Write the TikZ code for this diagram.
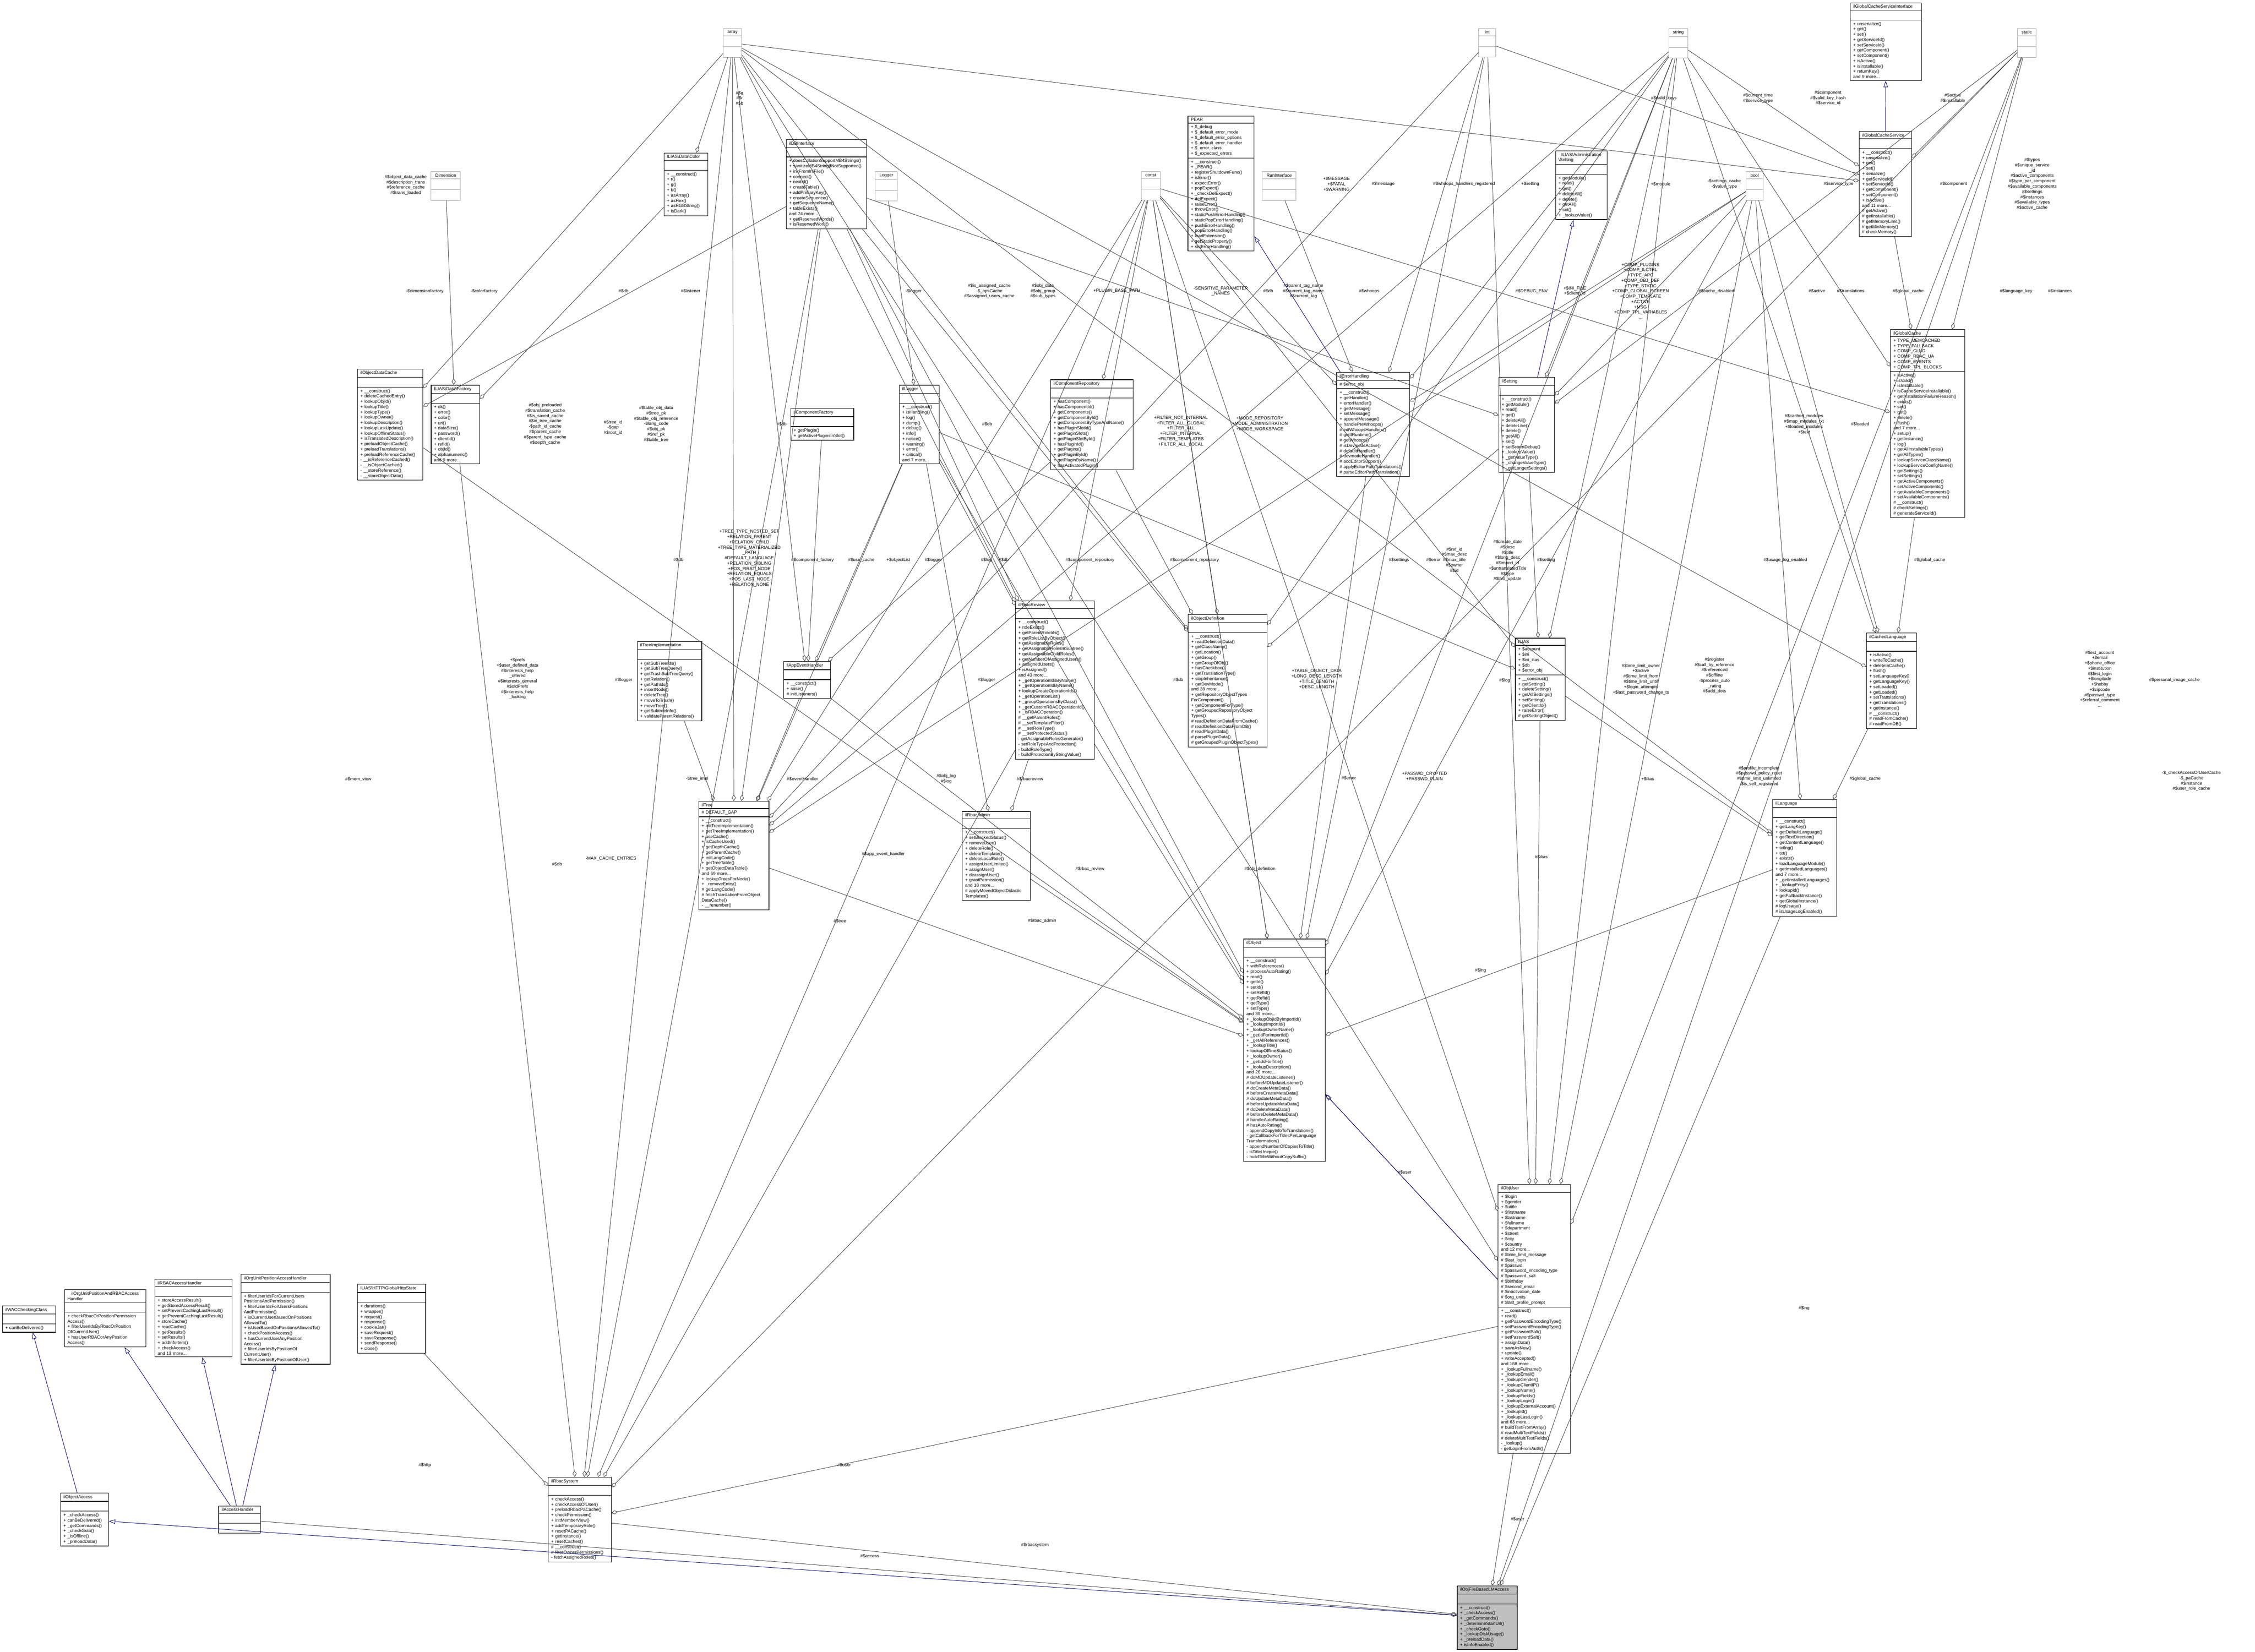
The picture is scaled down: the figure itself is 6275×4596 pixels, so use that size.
\documentclass[tikz,border=0pt]{standalone}
\usepackage{fontspec}
\setmainfont{Liberation Sans}
\usetikzlibrary{shapes.multipart}
\usetikzlibrary{arrows.meta}
\usetikzlibrary{positioning}

\tikzset{
  umlbox/.style={draw=black, line width=0.15mm, fill=white, rectangle split, rectangle split parts=3,
    inner xsep=0.8mm, inner ysep=0.5mm, font=\fontsize{3.5}{4.2}\selectfont, align=left},
  typebox/.style={draw=black!35, line width=0.12mm, fill=white, rectangle split, rectangle split parts=3,
    minimum width=4.8mm, inner ysep=0.5mm, rectangle split empty part height=1.6mm,
    font=\fontsize{3.5}{4.2}\selectfont, anchor=north west},
  assoc/.style={draw=black!75, line width=0.12mm, -{Diamond[open,length=1.8mm,width=1.1mm]}},
  inherit/.style={draw=blue!45!black, line width=0.12mm, -{Triangle[open,length=1.8mm,width=1.2mm]}},
  elabel/.style={font=\fontsize{3.5}{4.2}\selectfont, align=center, inner sep=0.3mm}
}

% name, position, width (px), title, attributes, methods
\newcommand\umlclass[7][]{%
  \node[umlbox, #1, text width=\dimexpr#4\dimexpr0.1mm\relax-1.6mm\relax, anchor=north west] (#2) at (#3)
    {\centering #5\nodepart{two}\raggedright\ifx&#6&\rule{0pt}{1.6mm}\else#6\fi
     \nodepart{three}\raggedright\ifx&#7&\rule{0pt}{1.6mm}\else#7\fi};}

\begin{document}
\begin{tikzpicture}[x=0.1mm, y=-0.1mm]
\useasboundingbox (0,0) rectangle (6275,4596);

% plain types
\foreach \n/\x/\y/\t in {tArray/2012/79/array, tInt/4114/79/int, tString/4643/79/string,
    tStatic/5613/79/static, tConst/3175/477/const, tBool/4858/477/bool, tLogger/2435/477/Logger,
    tRun/3512/477/RunInterface, tDim/1199/477/Dimension}
  \node[typebox] (\n) at (\x,\y) {\t\nodepart{two}\nodepart{three}};

% classes
\umlclass{cPear}{3305,322}{184}{PEAR}
 {+ \$\_debug\\+ \$\_default\_error\_mode\\+ \$\_default\_error\_options\\+ \$\_default\_error\_handler\\+ \$\_error\_class\\+ \$\_expected\_errors}
 {+ \_\_construct()\\+ \_PEAR()\\+ registerShutdownFunc()\\+ isError()\\+ expectError()\\+ popExpect()\\+ \_checkDelExpect()\\+ delExpect()\\+ raiseError()\\+ throwError()\\+ staticPushErrorHandling()\\+ staticPopErrorHandling()\\+ pushErrorHandling()\\+ popErrorHandling()\\+ loadExtension()\\+ getStaticProperty()\\+ setErrorHandling()}
\umlclass{cCacheIf}{5148,7}{198}{ilGlobalCacheServiceInterface}{}
 {+ unserialize()\\+ get()\\+ set()\\+ getServiceId()\\+ setServiceId()\\+ getComponent()\\+ setComponent()\\+ isActive()\\+ isInstallable()\\+ returnKey()\\and 9 more...}
\umlclass{cCacheSrv}{5173,365}{145}{ilGlobalCacheService}{}
 {+ \_\_construct()\\+ unserialize()\\+ get()\\+ set()\\+ serialize()\\+ getServiceId()\\+ setServiceId()\\+ getComponent()\\+ setComponent()\\+ isActive()\\and 11 more...\\\# getActive()\\\# getInstallable()\\\# getMemoryLimit()\\\# getMinMemory()\\\# checkMemory()}
\umlclass{cGlobalCache}{5260,916}{207}{ilGlobalCache}
 {+ TYPE\_MEMCACHED\\+ TYPE\_FALLBACK\\+ COMP\_CLNG\\+ COMP\_RBAC\_UA\\+ COMP\_EVENTS\\+ COMP\_TPL\_BLOCKS}
 {+ isActive()\\+ isValid()\\+ isInstallable()\\+ isCacheServiceInstallable()\\+ getInstallationFailureReason()\\+ exists()\\+ set()\\+ get()\\+ delete()\\+ flush()\\and 7 more...\\+ setup()\\+ getInstance()\\+ log()\\+ getAllInstallableTypes()\\+ getAllTypes()\\+ lookupServiceClassName()\\+ lookupServiceConfigName()\\+ getSettings()\\+ setSettings()\\+ getActiveComponents()\\+ setActiveComponents()\\+ getAvailableComponents()\\+ setAvailableComponents()\\\# \_\_construct()\\\# checkSettings()\\\# generateServiceId()}
\umlclass{cAdmSetting}{4328,419}{143}{ILIAS\textbackslash Administration\\\textbackslash Setting}{}
 {+ getModule()\\+ read()\\+ get()\\+ deleteAll()\\+ delete()\\+ getAll()\\+ set()\\+ \_lookupValue()}
\umlclass{cErrHandling}{3719,1035}{203}{ilErrorHandling}{\# \$error\_obj}
 {+ \_\_construct()\\+ getHandler()\\+ errorHandler()\\+ getMessage()\\+ setMessage()\\+ appendMessage()\\+ handlePreWhoops()\\\# initWhoopsHandlers()\\\# getIlRuntime()\\\# getWhoops()\\\# isDevmodeActive()\\\# defaultHandler()\\\# devmodeHandler()\\\# addEditorSupport()\\\# applyEditorPathTranslations()\\\# parseEditorPathTranslation()}
\umlclass{cSetting}{4170,1049}{155}{ilSetting}{}
 {+ \_\_construct()\\+ getModule()\\+ read()\\+ get()\\+ deleteAll()\\+ deleteLike()\\+ delete()\\+ getAll()\\+ set()\\+ setScormDebug()\\+ \_lookupValue()\\+ \_getValueType()\\+ \_changeValueType()\\+ \_getLongerSettings()}
\umlclass{cIlias}{4216,1775}{139}{ILIAS}
 {+ \$account\\+ \$ini\\+ \$ini\_ilias\\+ \$db\\+ \$error\_obj}
 {+ \_\_construct()\\+ getSetting()\\+ deleteSetting()\\+ getAllSettings()\\+ setSetting()\\+ getClientId()\\+ raiseError()\\\# getSettingObject()}
\umlclass{cCachedLng}{5193,1761}{139}{ilCachedLanguage}{}
 {+ isActive()\\+ writeToCache()\\+ deleteInCache()\\+ flush()\\+ setLanguageKey()\\+ getLanguageKey()\\+ setLoaded()\\+ getLoaded()\\+ setTranslations()\\+ getTranslations()\\+ getInstance()\\\# \_\_construct()\\\# readFromCache()\\\# readFromDB()}
\umlclass{cLng}{4932,2224}{178}{ilLanguage}{}
 {+ \_\_construct()\\+ getLangKey()\\+ getDefaultLanguage()\\+ getTextDirection()\\+ getContentLanguage()\\+ txtlng()\\+ txt()\\+ exists()\\+ loadLanguageModule()\\+ getInstalledLanguages()\\and 7 more...\\+ \_getInstalledLanguages()\\+ \_lookupEntry()\\+ lookupId()\\+ getFallbackInstance()\\+ getGlobalInstance()\\\# logUsage()\\\# isUsageLogEnabled()}
\umlclass{cDb}{2187,388}{224}{ilDBInterface}{}
 {+ doesCollationSupportMB4Strings()\\+ sanitizeMB4StringIfNotSupported()\\+ initFromIniFile()\\+ connect()\\+ nextId()\\+ createTable()\\+ addPrimaryKey()\\+ createSequence()\\+ getSequenceName()\\+ tableExists()\\and 74 more...\\+ getReservedWords()\\+ isReservedWord()}
\umlclass{cColor}{1847,425}{122}{ILIAS\textbackslash Data\textbackslash Color}{}
 {+ \_\_construct()\\+ r()\\+ g()\\+ b()\\+ asArray()\\+ asHex()\\+ asRGBString()\\+ isDark()}
\umlclass{cObjCache}{994,1026}{182}{ilObjectDataCache}{}
 {+ \_\_construct()\\+ deleteCachedEntry()\\+ lookupObjId()\\+ lookupTitle()\\+ lookupType()\\+ lookupOwner()\\+ lookupDescription()\\+ lookupLastUpdate()\\+ lookupOfflineStatus()\\+ isTranslatedDescription()\\+ preloadObjectCache()\\+ preloadTranslations()\\+ preloadReferenceCache()\\- \_\_isReferenceCached()\\- \_\_isObjectCached()\\- \_\_storeReference()\\- \_\_storeObjectData()}
\umlclass{cFactory}{1199,1071}{135}{ILIAS\textbackslash Data\textbackslash Factory}{}
 {+ ok()\\+ error()\\+ color()\\+ uri()\\+ dataSize()\\+ password()\\+ clientId()\\+ refId()\\+ objId()\\+ alphanumeric()\\and 9 more...}
\umlclass{cLogger}{2502,1071}{111}{ilLogger}{}
 {+ \_\_construct()\\+ isHandling()\\+ log()\\+ dump()\\+ debug()\\+ info()\\+ notice()\\+ warning()\\+ error()\\+ critical()\\and 7 more...}
\umlclass{cCompRepo}{2923,1056}{229}{ilComponentRepository}{}
 {+ hasComponent()\\+ hasComponentId()\\+ getComponents()\\+ getComponentById()\\+ getComponentByTypeAndName()\\+ hasPluginSlotId()\\+ getPluginSlots()\\+ getPluginSlotById()\\+ hasPluginId()\\+ getPlugins()\\+ getPluginById()\\+ getPluginByName()\\+ hasActivatedPlugin()}
\umlclass{cCompFactory}{2200,1136}{175}{ilComponentFactory}{}
 {+ getPlugin()\\+ getActivePluginsInSlot()}
\umlclass{cTreeImpl}{1773,1784}{179}{ilTreeImplementation}{}
 {+ getSubTreeIds()\\+ getSubTreeQuery()\\+ getTrashSubTreeQuery()\\+ getRelation()\\+ getPathIds()\\+ insertNode()\\+ deleteTree()\\+ moveToTrash()\\+ moveTree()\\+ getSubtreeInfo()\\+ validateParentRelations()}
\umlclass{cEvtHandler}{2180,1840}{130}{ilAppEventHandler}{}
 {+ \_\_construct()\\+ raise()\\\# initListeners()}
\umlclass{cRbacReview}{2825,1672}{219}{ilRbacReview}{}
 {+ \_\_construct()\\+ roleExists()\\+ getParentRoleIds()\\+ getRoleListByObject()\\+ getAssignableRoles()\\+ getAssignableRolesInSubtree()\\+ getAssignableChildRoles()\\+ getNumberOfAssignedUsers()\\+ assignedUsers()\\+ isAssigned()\\and 43 more...\\+ \_getOperationIdsByName()\\+ \_getOperationIdByName()\\+ lookupCreateOperationIds()\\+ \_getOperationList()\\+ \_groupOperationsByClass()\\+ \_getCustomRBACOperationId()\\+ \_isRBACOperation()\\\# \_\_getParentRoles()\\\# \_\_setTemplateFilter()\\\# \_\_setRoleType()\\\# \_\_setProtectedStatus()\\- getAssignableRolesGenerator()\\- setRoleTypeAndProtection()\\- buildRoleType()\\- buildProtectionByStringValue()}
\umlclass{cObjDef}{3306,1709}{219}{ilObjectDefinition}{}
 {+ \_\_construct()\\+ readDefinitionData()\\+ getClassName()\\+ getLocation()\\+ getGroup()\\+ getGroupOfObj()\\+ hasCheckbox()\\+ getTranslationType()\\+ stopInheritance()\\+ getDevMode()\\and 38 more...\\+ getRepositoryObjectTypes\\ForComponent()\\+ getComponentForType()\\+ getGroupedRepositoryObject\\Types()\\\# readDefinitionDataFromCache()\\\# readDefinitionDataFromDB()\\\# readPluginData()\\\# parsePluginData()\\\# getGroupedPluginObjectTypes()}
\umlclass{cTree}{1944,2229}{195}{ilTree}{\# DEFAULT\_GAP}
 {+ \_\_construct()\\+ initTreeImplementation()\\+ getTreeImplementation()\\+ useCache()\\+ isCacheUsed()\\+ getDepthCache()\\+ getParentCache()\\+ initLangCode()\\+ getTreeTable()\\+ getObjectDataTable()\\and 69 more...\\+ lookupTreesForNode()\\+ \_removeEntry()\\\# getLangCode()\\\# fetchTranslationFromObject\\DataCache()\\- \_\_renumber()}
\umlclass{cRbacAdmin}{2677,2257}{189}{ilRbacAdmin}{}
 {+ \_\_construct()\\+ setBlockedStatus()\\+ removeUser()\\+ deleteRole()\\+ deleteTemplate()\\+ deleteLocalRole()\\+ assignUserLimited()\\+ assignUser()\\+ deassignUser()\\+ grantPermission()\\and 18 more...\\\# applyMovedObjectDidactic\\Templates()}
\umlclass{cObject}{3460,2612}{227}{ilObject}{}
 {+ \_\_construct()\\+ withReferences()\\+ processAutoRating()\\+ read()\\+ getId()\\+ setId()\\+ setRefId()\\+ getRefId()\\+ getType()\\+ setType()\\and 39 more...\\+ \_lookupObjIdByImportId()\\+ \_lookupImportId()\\+ \_lookupOwnerName()\\+ \_getIdForImportId()\\+ \_getAllReferences()\\+ \_lookupTitle()\\+ lookupOfflineStatus()\\+ \_lookupOwner()\\+ \_getIdsForTitle()\\+ \_lookupDescription()\\and 26 more...\\\# doMDUpdateListener()\\\# beforeMDUpdateListener()\\\# doCreateMetaData()\\\# beforeCreateMetaData()\\\# doUpdateMetaData()\\\# beforeUpdateMetaData()\\\# doDeleteMetaData()\\\# beforeDeleteMetaData()\\\# handleAutoRating()\\\# hasAutoRating()\\- appendCopyInfoToTranslations()\\- getCallbackForTitlesPerLanguage\\Transformation()\\- appendNumberOfCopiesToTitle()\\- isTitleUnique()\\- buildTitleWithoutCopySuffix()}
\umlclass{cUser}{4168,3295}{202}{ilObjUser}
 {+ \$login\\+ \$gender\\+ \$utitle\\+ \$firstname\\+ \$lastname\\+ \$fullname\\+ \$department\\+ \$street\\+ \$city\\+ \$country\\and 12 more...\\\# \$time\_limit\_message\\\# \$last\_login\\\# \$passwd\\\# \$password\_encoding\_type\\\# \$password\_salt\\\# \$birthday\\\# \$second\_email\\\# \$inactivation\_date\\\# \$org\_units\\\# \$last\_profile\_prompt}
 {+ \_\_construct()\\+ read()\\+ getPasswordEncodingType()\\+ setPasswordEncodingType()\\+ getPasswordSalt()\\+ setPasswordSalt()\\+ assignData()\\+ saveAsNew()\\+ update()\\+ writeAccepted()\\and 168 more...\\+ \_lookupFullname()\\+ \_lookupEmail()\\+ \_lookupGender()\\+ \_lookupClientIP()\\+ \_lookupName()\\+ \_lookupFields()\\+ \_lookupLogin()\\+ \_lookupExternalAccount()\\+ \_lookupId()\\+ \_lookupLastLogin()\\and 63 more...\\\# buildTextFromArray()\\\# readMultiTextFields()\\\# deleteMultiTextFields()\\- \_lookup()\\- getLoginFromAuth()}
\umlclass[fill=black!25]{cFileLM}{4054,4412}{167}{ilObjFileBasedLMAccess}{}
 {+ \_\_construct()\\+ \_checkAccess()\\+ \_getCommands()\\+ \_determineStartUrl()\\+ \_checkGoto()\\+ \_lookupDiskUsage()\\+ \_preloadData()\\+ isInfoEnabled()}
\umlclass{cRbacSystem}{1525,4110}{175}{ilRbacSystem}{}
 {+ checkAccess()\\+ checkAccessOfUser()\\+ preloadRbacPaCache()\\+ checkPermission()\\+ initMemberView()\\+ addTemporaryRole()\\+ resetPACache()\\+ getInstance()\\+ resetCaches()\\\# \_\_construct()\\\# filterOwnerPermissions()\\- fetchAssignedRoles()}
\umlclass{cWac}{6,3633}{148}{ilWACCheckingClass}{}{+ canBeDelivered()}
\umlclass{cOrgRbac}{179,3588}{226}{ilOrgUnitPositionAndRBACAccess\\Handler}{}
 {+ checkRbacOrPositionPermission\\Access()\\+ filterUserIdsByRbacOrPosition\\OfCurrentUser()\\+ hasUserRBACorAnyPosition\\Access()}
\umlclass{cRbacAccess}{430,3559}{215}{ilRBACAccessHandler}{}
 {+ storeAccessResult()\\+ getStoredAccessResult()\\+ setPreventCachingLastResult()\\+ getPreventCachingLastResult()\\+ storeCache()\\+ readCache()\\+ getResults()\\+ setResults()\\+ addInfoItem()\\+ checkAccess()\\and 13 more...}
\umlclass{cOrgAccess}{670,3545}{248}{ilOrgUnitPositionAccessHandler}{}
 {+ filterUserIdsForCurrentUsers\\PositionsAndPermission()\\+ filterUserIdsForUsersPositions\\AndPermission()\\+ isCurrentUserBasedOnPositions\\AllowedTo()\\+ isUserBasedOnPositionsAllowedTo()\\+ checkPositionAccess()\\+ hasCurrentUserAnyPosition\\Access()\\+ filterUserIdsByPositionOf\\CurrentUser()\\+ filterUserIdsByPositionOfUser()}
\umlclass{cHttp}{994,3573}{190}{ILIAS\textbackslash HTTP\textbackslash GlobalHttpState}{}
 {+ durations()\\+ wrapper()\\+ request()\\+ response()\\+ cookieJar()\\+ saveRequest()\\+ saveResponse()\\+ sendResponse()\\+ close()}
\umlclass{cObjAccess}{168,4154}{133}{ilObjectAccess}{}
 {+ \_checkAccess()\\+ canBeDelivered()\\+ \_getCommands()\\+ \_checkGoto()\\+ \_isOffline()\\+ \_preloadData()}
\umlclass{cAccess}{608,4190}{116}{ilAccessHandler}{}{}

% usage relations
\foreach \a/\b in {tArray/cObjCache, tArray/cColor, tArray/cRbacSystem, tArray/cTree, tInt/cTree, tString/cTree,
    cDb/cObjCache, tArray/cEvtHandler, tDim/cFactory, cColor/cFactory, tLogger/cLogger, tArray/cRbacReview,
    tArray/cObjDef, tConst/cCompRepo, tConst/cErrHandling, cDb/cSetting, tString/cObjDef, tRun/cErrHandling,
    tInt/cErrHandling, tString/cErrHandling, tBool/cErrHandling, tConst/cIlias, tString/cIlias,
    tConst/cGlobalCache, tBool/cSetting, tBool/cCachedLng, tArray/cCachedLng, cGlobalCache/cCachedLng,
    tString/cCachedLng, tStatic/cGlobalCache, tString/cSetting, tStatic/cSetting, tString/cGlobalCache,
    tArray/cCacheSrv, tInt/cCacheSrv, tString/cCacheSrv, tStatic/cCacheSrv, cCacheSrv/cGlobalCache,
    tConst/cRbacReview, tConst/cObjDef, tConst/cTree, cDb/cTree, cCompFactory/cEvtHandler, tBool/cTree,
    cLogger/cEvtHandler, cLogger/cRbacAdmin, cDb/cRbacReview, cCompRepo/cEvtHandler, cCompRepo/cObjDef,
    cLogger/cTree, cLogger/cRbacReview, cDb/cObjDef, cTreeImpl/cTree, cEvtHandler/cTree, cLogger/cObject,
    cRbacReview/cRbacAdmin, cEvtHandler/cObject, cRbacReview/cObject, cObjDef/cObject, tArray/cLng,
    tBool/cLng, cSetting/cObjDef, cErrHandling/cObject, tInt/cObject, tString/cObject, cSetting/cIlias,
    cLogger/cIlias, tInt/cUser, tBool/cObject, tBool/cUser, cIlias/cLng, cCachedLng/cLng, tConst/cUser,
    cIlias/cUser, tConst/cObject, tString/cUser, tStatic/cUser, tStatic/cRbacSystem, tArray/cUser,
    cDb/cRbacSystem, tConst/cRbacSystem, cTree/cObject, cRbacAdmin/cObject, cUser/cObject,
    cUser/cRbacSystem, cHttp/cRbacSystem, cUser/cFileLM, cAccess/cFileLM, cRbacSystem/cFileLM,
    cLng/cFileLM, cLng/cObject, cFactory/cRbacSystem, cObjCache/cObject, cRbacReview/cRbacSystem,
    cDb/cObject, tStatic/cFileLM}
  \draw[assoc] (\a) -- (\b);

% inheritance
\foreach \a/\b in {cCacheSrv/cCacheIf, cSetting/cAdmSetting, cErrHandling/cPear, cUser/cObject,
    cFileLM/cObjAccess, cObjAccess/cWac, cAccess/cOrgRbac, cAccess/cRbacAccess, cAccess/cOrgAccess}
  \draw[inherit] (\a) -- (\b);

% edge labels
\foreach \lx/\ly/\lt [count=\i] in {
  2058/273/{\#\$g\\\#\$r\\\#\$b},
  1129/515/{\#\$object\_data\_cache\\\#\$description\_trans\\\#\$reference\_cache\\\#\$trans\_loaded},
  1182/810/{-\$dimensionfactory}, 1347/810/{-\$colorfactory}, 1735/810/{\#\$db}, 1922/810/{\#\$listener},
  1517/1180/{\#\$obj\_preloaded\\\#\$translation\_cache\\\#\$is\_saved\_cache\\\#\$in\_tree\_cache\\-\$path\_id\_cache\\\#\$parent\_cache\\\#\$parent\_type\_cache\\\#\$depth\_cache},
  1706/1190/{\#\$tree\_id\\-\$gap\\\#\$root\_id},
  1826/1180/{\#\$table\_obj\_data\\\#\$tree\_pk\\\#\$table\_obj\_reference\\-\$lang\_code\\\#\$obj\_pk\\\#\$ref\_pk\\\#\$table\_tree},
  2175/1180/{\#\$db}, 2542/810/{-\$logger},
  2753/810/{\#\$is\_assigned\_cache\\-\$\_opsCache\\\#\$assigned\_users\_cache},
  2902/810/{\#\$obj\_data\\\#\$obj\_group\\\#\$sub\_types},
  3108/810/{+PLUGIN\_BASE\_PATH}, 3397/810/{-SENSITIVE\_PARAMETER\\\_NAMES}, 3529/810/{\#\$db},
  3627/810/{\#\$parent\_tag\_name\\\#\$current\_tag\_name\\\#\$current\_tag}, 3810/810/{\#\$whoops},
  3719/512/{+\$MESSAGE\\+\$FATAL\\+\$WARNING}, 3849/512/{\#\$message},
  4074/512/{\#\$whoops\_handlers\_registered}, 4258/512/{+\$setting}, 4262/810/{\#\$DEBUG\_ENV},
  4382/810/{+\$INI\_FILE\\+\$client\_id},
  4565/810/{+COMP\_PLUGINS\\+COMP\_ILCTRL\\+TYPE\_APC\\+COMP\_OBJ\_DEF\\+TYPE\_STATIC\\+COMP\_GLOBAL\_SCREEN\\+COMP\_TEMPLATE\\+ACTIVE\\+MSG\\+COMP\_TPL\_VARIABLES\\...},
  4776/810/{\#\$cache\_disabled}, 5056/810/{\#\$active}, 5150/810/{\#\$translations},
  5310/810/{\#\$global\_cache}, 5610/810/{\#\$language\_key}, 5732/810/{\#\$instances},
  4621/512/{+\$module}, 4798/512/{-\$settings\_cache\\-\$value\_type}, 5116/512/{\#\$service\_type},
  5436/512/{\#\$component},
  5655/512/{\#\$types\\\#\$unique\_service\\\_id\\\#\$active\_components\\\#\$type\_per\_component\\\#\$available\_components\\\#\$settings\\\#\$instances\\\#\$available\_types\\\#\$active\_cache},
  4630/273/{\#\$valid\_keys}, 4892/273/{\#\$current\_time\\\#\$service\_type},
  5087/273/{\#\$component\\\#\$valid\_key\_hash\\\#\$service\_id}, 5434/273/{\#\$active\\\#\$installable},
  2747/1180/{\#\$db},
  3286/1200/{+FILTER\_NOT\_INTERNAL\\+FILTER\_ALL\_GLOBAL\\+FILTER\_ALL\\+FILTER\_INTERNAL\\+FILTER\_TEMPLATES\\+FILTER\_ALL\_LOCAL},
  3506/1180/{+MODE\_REPOSITORY\\+MODE\_ADMINISTRATION\\+MODE\_WORKSPACE},
  2085/1560/{+TREE\_TYPE\_NESTED\_SET\\+RELATION\_PARENT\\+RELATION\_CHILD\\+TREE\_TYPE\_MATERIALIZED\\\_PATH\\\#DEFAULT\_LANGUAGE\\+RELATION\_SIBLING\\+POS\_FIRST\_NODE\\+RELATION\_EQUALS\\+POS\_LAST\_NODE\\+RELATION\_NONE\\...},
  1888/1558/{\#\$db}, 2261/1558/{\#\$component\_factory}, 2397/1558/{\#\$use\_cache},
  2500/1558/{+\$objectList}, 2597/1558/{\#\$logger}, 2745/1558/{\#\$log}, 2793/1558/{\#\$db},
  3033/1558/{\#\$component\_repository}, 3324/1558/{\#\$component\_repository},
  1736/1892/{\#\$logger}, 2745/1892/{\#\$logger}, 3279/1892/{\#\$db},
  1940/2167/{-\$tree\_impl}, 2233/2167/{\#\$eventHandler}, 2633/2167/{\#\$obj\_log\\\#\$log},
  2866/2167/{\#\$rbacreview}, 2458/2377/{\#\$app\_event\_handler}, 3033/2418/{\#\$rbac\_review},
  3506/2418/{\#\$obj\_definition},
  5020/1180/{\#\$cached\_modules\\\#\$map\_modules\_txt\\+\$loaded\_modules\\+\$text}, 5176/1180/{\#\$loaded},
  3893/1558/{\#\$settings}, 3989/1558/{\#\$error},
  4047/1558/{\#\$ref\_id\\\#\$max\_desc\\\#\$max\_title\\\#\$owner\\\#\$id},
  4195/1560/{\#\$create\_date\\\#\$desc\\\#\$title\\\#\$long\_desc\\\#\$import\_id\\+\$untranslatedTitle\\\#\$type\\\#\$last\_update},
  4302/1558/{\#\$setting}, 4968/1558/{\#\$usage\_log\_enabled}, 5370/1558/{\#\$global\_cache},
  4187/1893/{\#\$log},
  4566/1890/{\#\$time\_limit\_owner\\+\$active\\\#\$time\_limit\_from\\\#\$time\_limit\_until\\+\$login\_attempts\\+\$last\_password\_change\_ts},
  4771/1880/{\#\$register\\\#\$call\_by\_reference\\\#\$referenced\\\#\$offline\\-\$process\_auto\\\_rating\\\#\$add\_dots},
  4895/2160/{\#\$profile\_incomplete\\\#\$passwd\_policy\_reset\\\#\$time\_limit\_unlimited\\-\$is\_self\_registered},
  4585/2167/{+\$ilias}, 5190/2167/{\#\$global\_cache}, 3964/2161/{+PASSWD\_CRYPTED\\+PASSWD\_PLAIN},
  3753/2165/{\#\$error}, 4289/2385/{\#\$ilias},
  3664/1890/{+TABLE\_OBJECT\_DATA\\+LONG\_DESC\_LENGTH\\+TITLE\_LENGTH\\+DESC\_LENGTH},
  5843/1889/{\#\$ext\_account\\+\$email\\+\$phone\_office\\+\$institution\\\#\$first\_login\\+\$longitude\\+\$hobby\\+\$zipcode\\\#\$passwd\_type\\+\$referral\_comment\\...},
  6051/1892/{\#\$personal\_image\_cache},
  6098/2173/{-\$\_checkAccessOfUserCache\\-\$\_paCache\\\#\$instance\\\#\$user\_role\_cache},
  1440/1889/{+\$prefs\\+\$user\_defined\_data\\\#\$interests\_help\\\_offered\\\#\$interests\_general\\\#\$oldPrefs\\\#\$interests\_help\\\_looking},
  997/2168/{\#\$mem\_view}, 1550/2405/{\#\$db}, 1700/2390/{-MAX\_CACHE\_ENTRIES},
  2337/2563/{\#\$tree}, 2900/2563/{\#\$rbac\_admin}, 3909/3262/{\#\$user}, 2349/4076/{\#\$user},
  1182/4077/{\#\$http}, 4223/4227/{\#\$user}, 2420/4330/{\#\$access}, 2880/4300/{\#\$rbacsystem},
  5020/3640/{\#\$lng}, 4120/2700/{\#\$lng}}
  \node[elabel] (lb\i) at (\lx,\ly) {\lt};
\end{tikzpicture}
\end{document}
